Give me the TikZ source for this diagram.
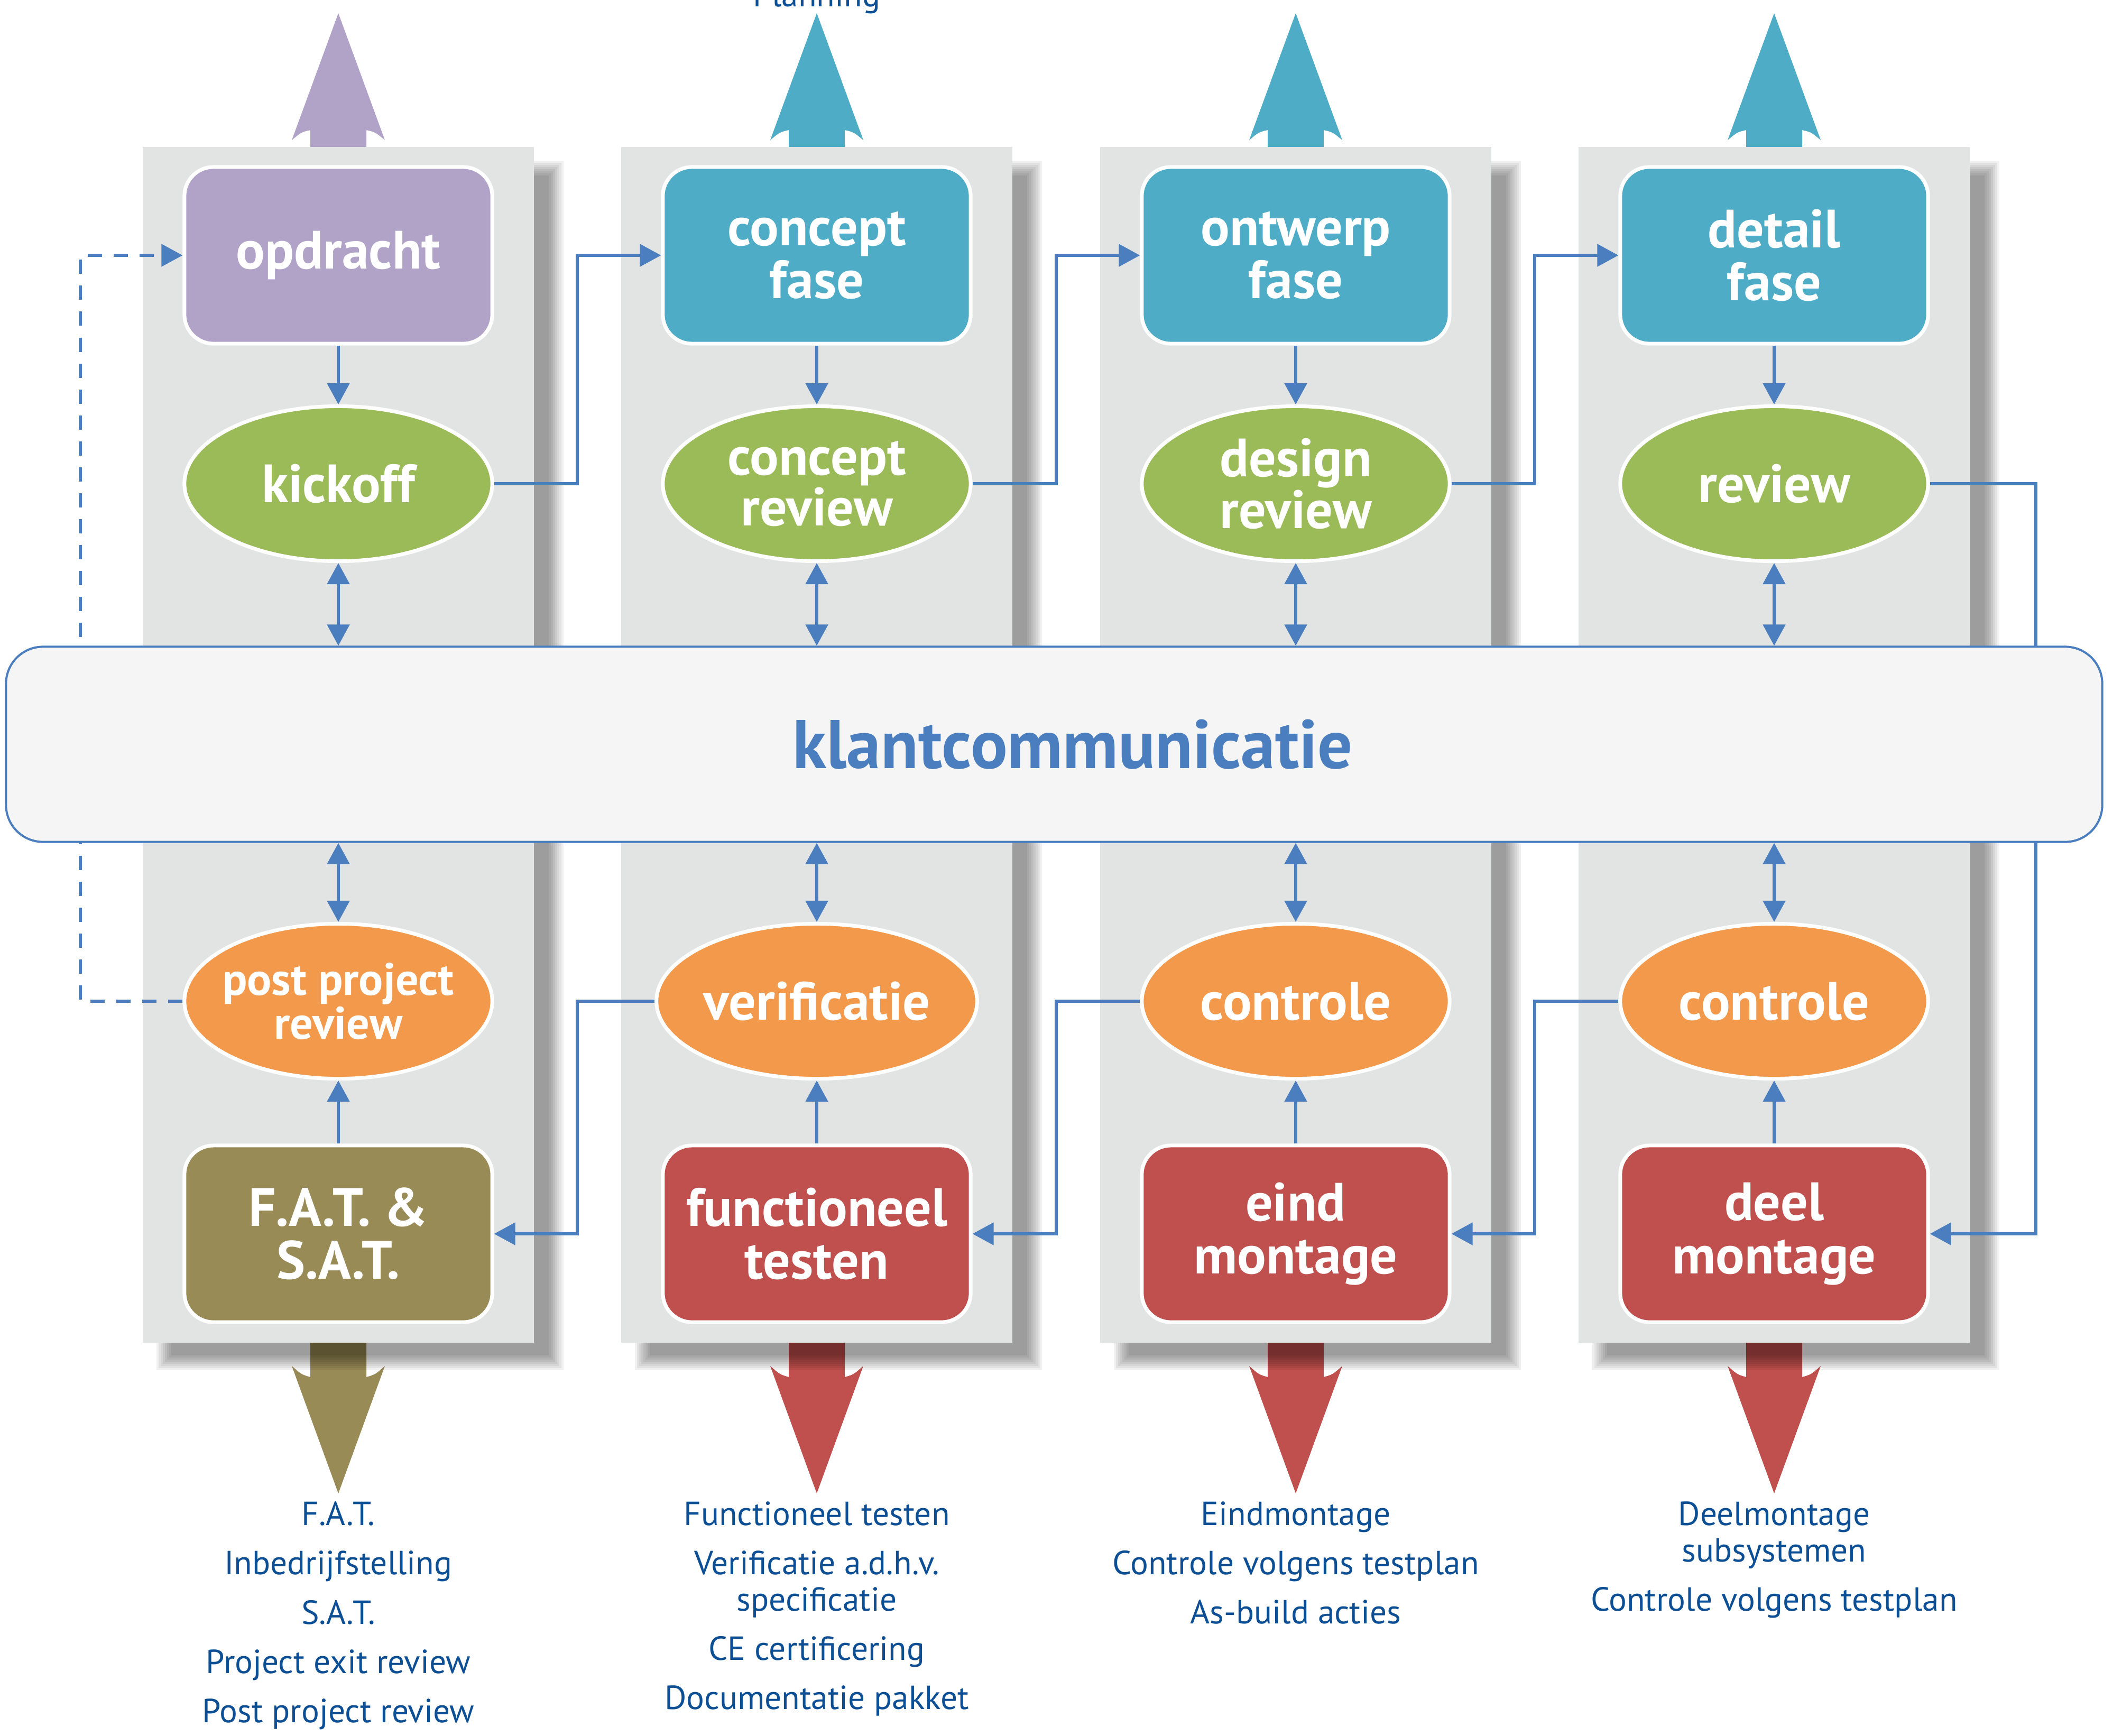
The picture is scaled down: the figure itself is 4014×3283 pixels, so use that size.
\documentclass[tikz,border=0pt]{standalone}
\usepackage{fontspec}
\setmainfont{PT Sans}
\usetikzlibrary{arrows.meta,shapes.geometric,positioning}

\definecolor{lila}{HTML}{B1A2C8}
\definecolor{aqua}{HTML}{4FACC7}
\definecolor{groen}{HTML}{9BBB59}
\definecolor{oranje}{HTML}{F2994B}
\definecolor{rood}{HTML}{C0504D}
\definecolor{olijf}{HTML}{988B56}
\definecolor{paneelgrijs}{HTML}{E2E4E3}
\definecolor{lijn}{HTML}{4A7EBF}
\definecolor{tekst}{HTML}{0D4F94}
\definecolor{balk}{HTML}{F5F5F5}

\begin{document}
\begin{tikzpicture}[
  x=0.01cm, y=-0.01cm,
  fase/.style={rectangle,rounded corners=0.55cm,draw=white,line width=0.07cm,minimum width=5.82cm,minimum height=3.34cm,inner sep=0pt,align=center,text=white,font=\bfseries\fontsize{29}{28.5}\selectfont},
  mijl/.style={ellipse,draw=white,line width=0.07cm,minimum width=5.82cm,minimum height=2.93cm,inner sep=0pt,align=center,text=white,font=\bfseries\fontsize{29}{24.5}\selectfont},
  schaduw/.style={fill=black,opacity=0.06},
  pijl/.style={draw=lijn,line width=0.055cm,-{Triangle[length=0.4cm,width=0.42cm]}},
  dubbel/.style={pijl,{Triangle[length=0.4cm,width=0.42cm]}-{Triangle[length=0.4cm,width=0.42cm]}},
  lijst/.style={text=tekst,align=center,inner sep=0pt,font=\fontsize{18}{19.5}\selectfont}
]

\useasboundingbox (0,0) rectangle (4014,3283);

% grote pijlen boven en onder
\foreach \c/\kl in {640/lila,1545/aqua,2451/aqua,3356/aqua}
  \fill[\kl] ({\c-53},300) -- ({\c-53},246) .. controls ({\c-70},250) .. ({\c-88},265) -- (\c,25)
    -- ({\c+88},265) .. controls ({\c+70},250) .. ({\c+53},246) -- ({\c+53},300) -- cycle;
\foreach \c/\kl in {640/olijf,1545/rood,2451/rood,3356/rood}
  \fill[\kl] ({\c-53},2520) -- ({\c-53},2605) .. controls ({\c-70},2600) .. ({\c-88},2584) -- (\c,2825)
    -- ({\c+88},2584) .. controls ({\c+70},2600) .. ({\c+53},2605) -- ({\c+53},2520) -- cycle;

% panelen
\foreach \c in {640,1545,2451,3356}
  \foreach \k in {-14,-10,...,14}
    \fill[schaduw] ({\c-330-\k},{318-\k}) rectangle ({\c+412+\k},{2578+\k});
\foreach \c in {640,1545,2451,3356}
  \fill[paneelgrijs] ({\c-370},278) rectangle ({\c+370},2540);

\node[lijst,anchor=base] (planning) at (1545,12) {Planning};

\node[fase,fill=lila] (fase1) at (640,483) {opdracht};
\node[fase,fill=aqua] (fase2) at (1545,483) {concept\\fase};
\node[fase,fill=aqua] (fase3) at (2451,483) {ontwerp\\fase};
\node[fase,fill=aqua] (fase4) at (3356,483) {detail\\fase};

\node[mijl,fill=groen] (rev1) at (640,915) {kickoff};
\node[mijl,fill=groen] (rev2) at (1545,915) {concept\\review};
\node[mijl,fill=groen] (rev3) at (2451,915) {design\\review};
\node[mijl,fill=groen] (rev4) at (3356,915) {review};

\node[mijl,fill=oranje,inner xsep=-0.25cm,font=\bfseries\fontsize{24.5}{23.5}\selectfont] (ctrl1) at (640,1894) {post project\\review};
\node[mijl,fill=oranje] (ctrl2) at (1545,1894) {verificatie};
\node[mijl,fill=oranje] (ctrl3) at (2451,1894) {controle};
\node[mijl,fill=oranje] (ctrl4) at (3356,1894) {controle};

\node[fase,fill=olijf] (mont1) at (640,2334) {F.A.T. \&\\S.A.T.};
\node[fase,fill=rood] (mont2) at (1545,2334) {functioneel\\testen};
\node[fase,fill=rood] (mont3) at (2451,2334) {eind\\montage};
\node[fase,fill=rood] (mont4) at (3356,2334) {deel\\montage};

\coordinate (lus) at (152,0);
\coordinate (gap1) at (1092,0);
\coordinate (gap2) at (1998,0);
\coordinate (gap3) at (2903,0);
\coordinate (rechts) at (3851,0);

% lijnen achter de balk
\draw[pijl,dash pattern=on 0.27cm off 0.22cm] (ctrl1.west) -| (lus |- fase1.west) -- (fase1.west);
\draw[pijl] (rev4.east) -| (rechts |- mont4.east) -- (mont4.east);

\node[draw=lijn,fill=balk,line width=0.04cm,rounded corners=0.7cm,minimum width=39.63cm,minimum height=3.69cm,
  text=lijn,font=\bfseries\fontsize{37}{37}\selectfont] (klant) at (1994,1408) {\hspace*{0.7cm}klantcommunicatie};

\foreach \i/\j in {1/2,2/3,3/4} {
  \draw[pijl] (rev\i.east) -| (gap\i |- fase\j.west) -- (fase\j.west);
  \draw[pijl] (ctrl\j.west) -| (gap\i |- mont\i.east) -- (mont\i.east);
}

\foreach \i in {1,...,4} {
  \draw[pijl] (fase\i) -- (rev\i);
  \draw[dubbel] (rev\i) -- (rev\i |- klant.north);
  \draw[dubbel] (klant.south -| ctrl\i) -- (ctrl\i);
  \draw[pijl] (mont\i) -- (ctrl\i);
}

\node[lijst,anchor=north] (lijst1) at (640,2840) {F.A.T.\\[7pt]Inbedrijfstelling\\[7pt]S.A.T.\\[7pt]Project exit review\\[7pt]Post project review};
\node[lijst,anchor=north] (lijst2) at (1545,2840) {Functioneel testen\\[7pt]Verificatie a.d.h.v.\\specificatie\\[7pt]CE certificering\\[7pt]Documentatie pakket};
\node[lijst,anchor=north] (lijst3) at (2451,2840) {Eindmontage\\[7pt]Controle volgens testplan\\[7pt]As-build acties};
\node[lijst,anchor=north] (lijst4) at (3356,2840) {Deelmontage\\subsystemen\\[7pt]Controle volgens testplan};

\end{tikzpicture}
\end{document}
